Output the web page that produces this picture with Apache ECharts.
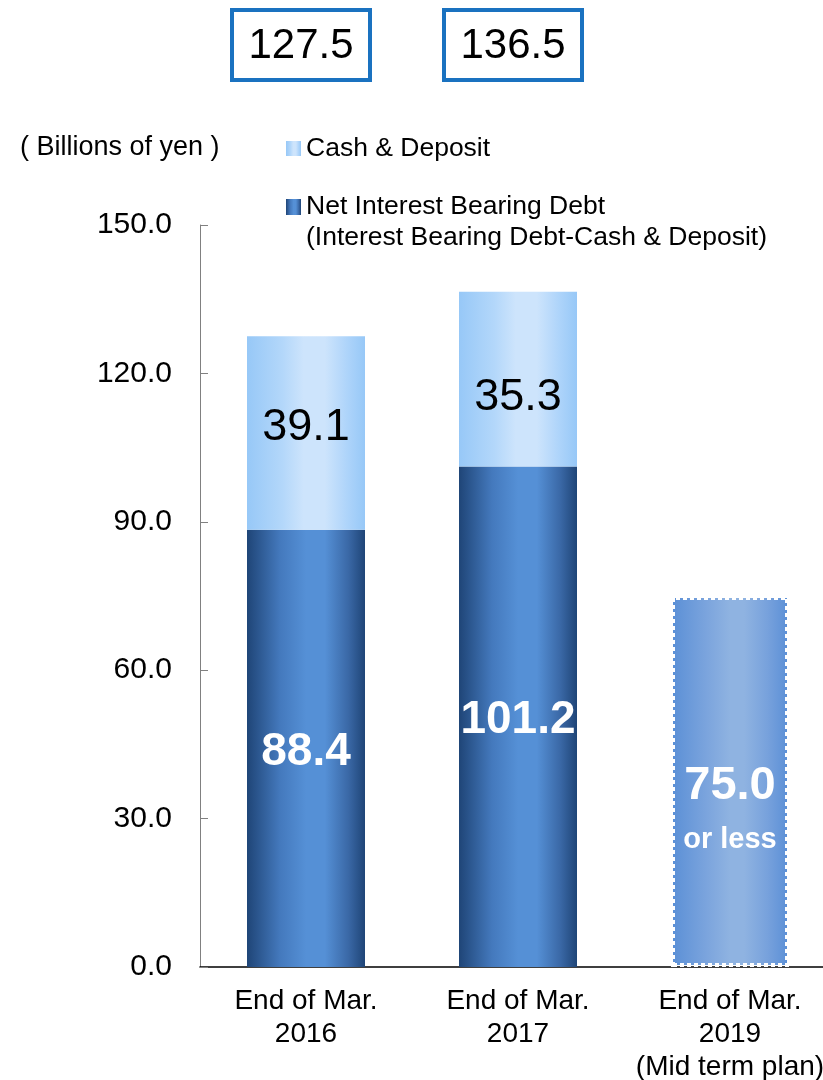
<!DOCTYPE html>
<html>
<head>
<meta charset="utf-8">
<script src="https://cdn.jsdelivr.net/npm/echarts@6/dist/echarts.min.js"></script>
<style>
  html, body { margin: 0; padding: 0; background: #fff; }
  #chart { width: 823px; height: 1080px; }
</style>
</head>
<body>
<div id="chart"></div>
<script>
// Categories and values (billions of yen)
const categories = ['End of Mar.\n2016', 'End of Mar.\n2017', 'End of Mar.\n2019\n(Mid term plan)'];
const netDebt = [88.4, 101.2, 75.0];
const cashDeposit = [39.1, 35.3, null];
const planIndex = 2;            // last bar is the mid-term target
const yTicks = [0, 30, 60, 90, 120, 150];

const FONT = "'Liberation Sans', Arial, sans-serif";

function hGrad(stops) {
  return new echarts.graphic.LinearGradient(0, 0, 1, 0,
    stops.map(([o, c]) => ({ offset: o, color: c })));
}
const darkFill = hGrad([[0, '#1f4577'], [0.28, '#4479bd'], [0.5, '#5590d6'], [0.66, '#5590d6'], [0.86, '#3a68a6'], [1, '#1f4577']]);
const lightFill = hGrad([[0, '#97c8f7'], [0.3, '#b3d7fa'], [0.48, '#cde4fc'], [0.66, '#cde4fc'], [0.86, '#acd3fa'], [1, '#97c8f7']]);
const planFill = hGrad([[0, '#5a8fd6'], [0.3, '#7ba4dd'], [0.5, '#8fb3e1'], [0.62, '#8fb3e1'], [0.82, '#77a1dc'], [1, '#5a8fd6']]);

const chart = echarts.init(document.getElementById('chart'), null, { renderer: 'canvas' });

const netData = netDebt.map((v, i) => {
  if (i !== planIndex) return v;
  return {
    value: v,
    itemStyle: { color: planFill, borderColor: '#ffffff', borderWidth: 4, borderType: [4, 3] },
    label: {
      offset: [0, 30],
      formatter: p => `{a|${p.value.toFixed(1)}}\n{b|or less}`,
      rich: {
        a: { fontSize: 47, fontWeight: 'bold', color: '#fff', fontFamily: FONT, lineHeight: 56 },
        b: { fontSize: 29, fontWeight: 'bold', color: '#fff', fontFamily: FONT, lineHeight: 50 }
      }
    }
  };
});

const cashLabelShift = [-5, 19, 0];
const cashData = cashDeposit.map((v, i) => v == null ? '-' : { value: v, label: { offset: [0, cashLabelShift[i]] } });

chart.setOption({
  animation: false,
  grid: { left: 200, width: 636, top: 225, height: 742, outerBoundsMode: 'none', containLabel: false },
  legend: [
    {
      data: ['Cash & Deposit'],
      left: 286, top: 135, padding: 0, orient: 'vertical',
      icon: 'rect', itemWidth: 15, itemHeight: 15,
      selectedMode: false,
      textStyle: { fontSize: 26.5, color: '#000', fontFamily: FONT }
    },
    {
      data: ['Net Interest Bearing Debt'],
      left: 286, top: 171, padding: 0, orient: 'vertical',
      icon: 'rect', itemWidth: 15, itemHeight: 16,
      selectedMode: false,
      formatter: n => `{s| }\n{t|${n}}\n{t|(Interest Bearing Debt-Cash & Deposit)}`,
      textStyle: {
        color: '#000', fontFamily: FONT, fontSize: 26.5,
        rich: {
          s: { fontSize: 10, lineHeight: 31 },
          t: { fontSize: 26.5, lineHeight: 31, color: '#000', fontFamily: FONT }
        }
      }
    }
  ],
  xAxis: {
    type: 'category',
    data: categories,
    axisLine: { lineStyle: { color: '#000', width: 1.5 } },
    axisTick: { inside: true, length: 7, lineStyle: { color: '#808080' } },
    axisLabel: { color: '#000', fontSize: 28, lineHeight: 33, margin: 18, fontFamily: FONT, interval: 0 }
  },
  yAxis: {
    type: 'value',
    min: yTicks[0], max: yTicks[yTicks.length - 1], interval: 30,
    axisLine: { show: true, lineStyle: { color: '#808080', width: 1 } },
    axisTick: { show: true, inside: true, length: 8, lineStyle: { color: '#808080' } },
    splitLine: { show: false },
    axisLabel: { color: '#000', fontSize: 30, margin: 28, fontFamily: FONT, formatter: v => v.toFixed(1) }
  },
  series: [
    {
      name: 'Net Interest Bearing Debt',
      type: 'bar', stack: 'total', barWidth: 118,
      itemStyle: { color: darkFill },
      label: {
        show: true, position: 'inside', offset: [0, 4], color: '#fff', fontSize: 46, fontWeight: 'bold', fontFamily: FONT,
        formatter: p => p.value.toFixed(1)
      },
      data: netData
    },
    {
      name: 'Cash & Deposit',
      type: 'bar', stack: 'total', barWidth: 118,
      itemStyle: { color: lightFill },
      label: {
        show: true, position: 'inside', color: '#000', fontSize: 45, fontFamily: FONT,
        formatter: p => p.value.toFixed(1)
      },
      data: cashData
    }
  ]
});

// Unit caption and boxed totals above the actual-result bars
const graphics = [{
  type: 'text', left: 20, top: 134,
  style: { text: '( Billions of yen )', font: `27px ${FONT}`, fill: '#000' }
}];
categories.forEach((c, i) => {
  if (cashDeposit[i] == null) return;
  const cx = chart.convertToPixel({ xAxisIndex: 0 }, c) - 5;
  const total = (netDebt[i] + cashDeposit[i]).toFixed(1);
  graphics.push({
    type: 'rect',
    shape: { x: cx - 69, y: 10, width: 138, height: 70 },
    style: { fill: '#fff', stroke: '#1a72c0', lineWidth: 4 }
  });
  graphics.push({
    type: 'text',
    style: { text: total, x: cx, y: 46, align: 'center', verticalAlign: 'middle', font: `42px ${FONT}`, fill: '#000' }
  });
});
chart.setOption({ graphic: graphics });
</script>
</body>
</html>
